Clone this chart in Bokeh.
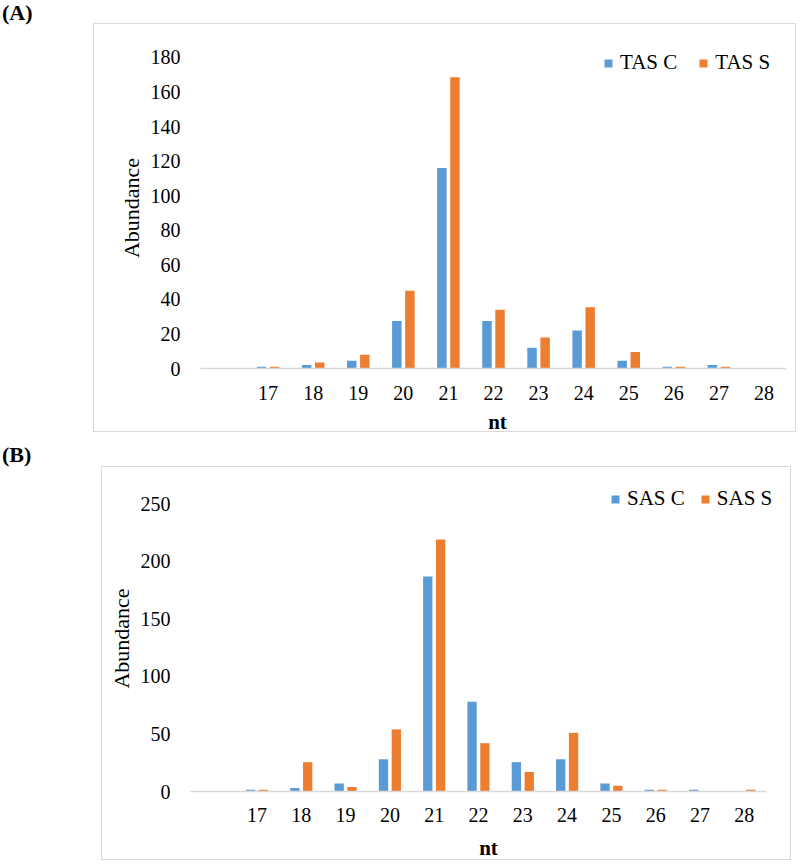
from bokeh.plotting import figure
from bokeh.models import (Range1d, FixedTicker, Legend, LegendItem, ColumnDataSource, Div)
from bokeh.transform import dodge
from bokeh.layouts import column, row
from bokeh.embed import file_html
from bokeh.resources import INLINE

# ---- data ----
nt = [17, 18, 19, 20, 21, 22, 23, 24, 25, 26, 27, 28]
tas_c = [1, 2, 4.5, 27.5, 116, 27.5, 12, 22, 4.5, 1, 2, 0]
tas_s = [1, 3.5, 8, 45, 168.5, 34, 18, 35.5, 9.5, 1, 1, 0]
sas_c = [1.5, 3, 7, 28, 187, 78, 25.5, 28, 7, 1.5, 1.5, 0]
sas_s = [1.5, 25.5, 4, 54, 219, 42, 17, 51, 5, 1.5, 0, 1.5]
ticks_a = [0, 20, 40, 60, 80, 100, 120, 140, 160, 180]
ticks_b = [0, 50, 100, 150, 200, 250]
names_a = ["TAS C", "TAS S"]
names_b = ["SAS C", "SAS S"]
tags = ["(A)", "(B)"]

BLUE = "#5B9BD5"
ORANGE = "#ED7D31"
FONT = "Liberation Serif"


def tag_div(text, W, H, top):
    return Div(text=text, width=W, height=H, margin=0,
               styles={"font-family": "'Liberation Serif', serif", "font-size": "22px",
                       "font-weight": "bold", "color": "black", "line-height": "25px",
                       "text-indent": "2px", "padding-top": f"{top}px"})


def panel(c_vals, s_vals, names, yticks, W, H, fl, fr, ft, fb, y_pad,
          box, legpos, x_std, xl_std, extra, leg_spacing):
    src = ColumnDataSource(dict(nt=nt, c=c_vals, s=s_vals))
    bl, bt, bw, bh = box
    css = (":host { position: relative; }"
           ":host::after { content: ''; position: absolute; "
           f"left: {bl}px; top: {bt}px; width: {bw}px; height: {bh}px; "
           "border: 1px solid #D9D9D9; pointer-events: none; z-index: 5; }")
    x0, x1 = nt[0] - 1.5, nt[-1] + 0.5
    px_per_cat = (fr - fl) / (x1 - x0)
    p = figure(width=W, height=H, output_backend="svg", toolbar_location=None,
               x_range=Range1d(x0, x1 + extra / px_per_cat),
               y_range=Range1d(0, yticks[-1] * y_pad),
               min_border_left=fl, min_border_right=W - fr - extra,
               min_border_top=ft, min_border_bottom=H - fb,
               margin=0, stylesheets=[css])
    p.outline_line_color = None
    p.grid.visible = False

    rc = p.vbar(x=dodge("nt", -0.145, range=p.x_range), top="c", width=0.21,
                source=src, fill_color=BLUE, line_color=None)
    rs = p.vbar(x=dodge("nt", 0.145, range=p.x_range), top="s", width=0.21,
                source=src, fill_color=ORANGE, line_color=None)

    xa = p.xaxis[0]
    xa.bounds = (x0, x1)
    xa.ticker = FixedTicker(ticks=nt)
    xa.axis_line_color = "#D9D9D9"
    xa.axis_line_width = 1.3
    xa.major_tick_line_color = None
    xa.minor_tick_line_color = None
    xa.major_tick_out = 0
    xa.major_tick_in = 0
    xa.major_label_standoff = x_std
    xa.major_label_text_font = FONT
    xa.major_label_text_font_size = "20px"
    xa.major_label_text_color = "black"
    xa.axis_label = "nt"
    xa.axis_label_text_font = FONT
    xa.axis_label_text_font_size = "21px"
    xa.axis_label_text_font_style = "bold"
    xa.axis_label_text_color = "black"
    xa.axis_label_standoff = xl_std

    ya = p.yaxis[0]
    ya.ticker = FixedTicker(ticks=yticks)
    ya.axis_line_color = None
    ya.major_tick_line_color = None
    ya.minor_tick_line_color = None
    ya.major_tick_out = 0
    ya.major_tick_in = 0
    ya.major_label_standoff = 20
    ya.major_label_text_font = FONT
    ya.major_label_text_font_size = "20px"
    ya.major_label_text_color = "black"
    ya.axis_label = "Abundance"
    ya.axis_label_text_font = FONT
    ya.axis_label_text_font_size = "22px"
    ya.axis_label_text_font_style = "normal"
    ya.axis_label_text_color = "black"
    ya.axis_label_standoff = 4

    leg = Legend(items=[LegendItem(label=names[0], renderers=[rc]),
                        LegendItem(label=names[1], renderers=[rs])],
                 orientation="horizontal", location=legpos,
                 glyph_width=10, glyph_height=10, label_standoff=7, spacing=leg_spacing,
                 padding=0, margin=0, border_line_color=None,
                 background_fill_alpha=0,
                 label_text_font=FONT, label_text_font_size="21px",
                 label_text_color="black")
    p.add_layout(leg)
    return p


# panel A: canvas origin at page (93, 0)
pa = panel(tas_c, tas_s, names_a, ticks_a, 707, 440,
           107, 693, 47, 368, 1.032, (0, 23, 703, 409), (403, 293), 17, 7, 8, 21)
# panel B: canvas origin at page (100, 440)
pb = panel(sas_c, sas_s, names_b, ticks_b, 700, 425,
           90, 666, 45, 351, 1.064, (1, 26, 690, 394), (420, 280), 16, 11, 20, 15)

layout = column(row(tag_div(tags[0], 93, 30, 0), pa),
                row(tag_div(tags[1], 100, 40, 2), pb), spacing=0)
open("out.html", "w").write(file_html(layout, INLINE))
